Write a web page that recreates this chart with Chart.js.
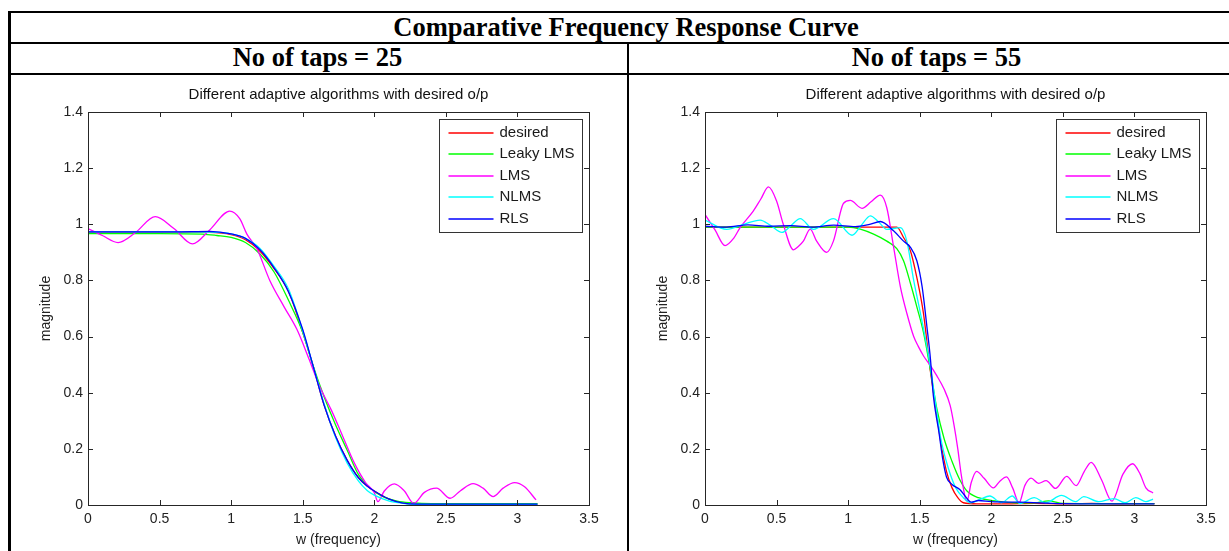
<!DOCTYPE html>
<html>
<head>
<meta charset="utf-8">
<title>Comparative Frequency Response Curve</title>
<script src="https://cdn.jsdelivr.net/npm/chart.js@4.4.0/dist/chart.umd.min.js"></script>
<style>
  html, body { margin: 0; padding: 0; background: #fff; }
  body { width: 1229px; height: 551px; position: relative; overflow: hidden; }
  .rule { position: absolute; background: #000; }
  .head {
    position: absolute; text-align: center; white-space: nowrap; color: #000;
    font-family: "Liberation Serif", "Times New Roman", serif; font-weight: bold; font-size: 26.5px;
    height: 29px; line-height: 29px;
  }
  canvas { position: absolute; }
</style>
</head>
<body>
  <!-- table rules -->
  <div class="rule" style="left:8px;top:11px;width:1236px;height:2px"></div>
  <div class="rule" style="left:8px;top:42px;width:1236px;height:2px"></div>
  <div class="rule" style="left:8px;top:73px;width:1236px;height:2px"></div>
  <div class="rule" style="left:8px;top:11px;width:3px;height:540px"></div>
  <div class="rule" style="left:627px;top:43px;width:2px;height:508px"></div>

  <div class="head" style="left:8px;top:13px;width:1236px">Comparative Frequency Response Curve</div>
  <div class="head" style="left:8px;top:43px;width:619px">No of taps = 25</div>
  <div class="head" style="left:629px;top:43px;width:615px">No of taps = 55</div>

  <canvas id="chart25" width="614" height="475" style="left:12px;top:76px"></canvas>
  <canvas id="chart55" width="599" height="475" style="left:630px;top:76px"></canvas>

<script>
  'use strict';

  const SUBTITLE = 'Different adaptive algorithms with desired o/p';
  const X_TITLE = 'w (frequency)';
  const Y_TITLE = 'magnitude';
  const SERIES_NAMES = ['desired', 'Leaky LMS', 'LMS', 'NLMS', 'RLS'];
  const X_TICKS = [0, 0.5, 1, 1.5, 2, 2.5, 3, 3.5];
  const Y_TICKS = [0, 0.2, 0.4, 0.6, 0.8, 1, 1.2, 1.4];

  // ---- No of taps = 25 ----
  const w25Desired = [0, 0.3, 0.6, 0.85, 1.0, 1.1, 1.2, 1.3, 1.4, 1.5, 1.57, 1.65, 1.73, 1.81, 1.89, 1.95, 2.0, 2.1, 2.2, 2.3, 2.6, 3.14];
  const mag25Desired = [0.972, 0.972, 0.972, 0.971, 0.963, 0.945, 0.905, 0.842, 0.762, 0.615, 0.5, 0.355, 0.245, 0.16, 0.097, 0.068, 0.05, 0.022, 0.007, 0.003, 0.003, 0.003];

  const w25Leaky = [0, 0.5, 0.8, 0.9, 1.0, 1.1, 1.2, 1.3, 1.4, 1.5, 1.57, 1.65, 1.73, 1.81, 1.89, 1.97, 2.05, 2.16, 2.26, 2.4, 3.14];
  const mag25Leaky = [0.967, 0.967, 0.965, 0.96, 0.953, 0.935, 0.895, 0.83, 0.73, 0.615, 0.5, 0.385, 0.285, 0.196, 0.108, 0.061, 0.032, 0.014, 0.008, 0.005, 0.005];

  const w25Lms = [0, 0.1, 0.21, 0.33, 0.47, 0.6, 0.73, 0.85, 0.99, 1.06, 1.11, 1.18, 1.27, 1.37, 1.46, 1.544, 1.62, 1.7, 1.78, 1.86, 1.94, 2.0, 2.025,
                  2.07, 2.14, 2.21, 2.275, 2.35, 2.435, 2.53, 2.6, 2.69, 2.76, 2.83, 2.9, 2.98, 3.05, 3.13];
  const mag25Lms = [0.985, 0.96, 0.935, 0.97, 1.027, 0.985, 0.93, 0.98, 1.047, 1.02, 0.965, 0.913, 0.8, 0.706, 0.625, 0.52, 0.42, 0.338, 0.244, 0.15, 0.079, 0.044, 0.012,
                    0.05, 0.075, 0.05, 0.006, 0.045, 0.06, 0.024, 0.05, 0.076, 0.06, 0.03, 0.06, 0.08, 0.065, 0.018];

  const w25Nlms = [0, 0.3, 0.6, 0.85, 1.0, 1.1, 1.2, 1.3, 1.4, 1.5, 1.57, 1.65, 1.73, 1.81, 1.89, 1.95, 2.0, 2.1, 2.2, 2.3, 2.6, 3.14];
  const mag25Nlms = [0.973, 0.973, 0.973, 0.972, 0.966, 0.95, 0.915, 0.85, 0.77, 0.62, 0.5, 0.36, 0.24, 0.15, 0.085, 0.052, 0.035, 0.015, 0.006, 0.002, 0.002, 0.002];

  const w25Rls = [0, 0.3, 0.6, 0.85, 1.0, 1.1, 1.2, 1.3, 1.4, 1.5, 1.57, 1.65, 1.73, 1.81, 1.89, 1.95, 2.0, 2.1, 2.2, 2.3, 2.6, 3.14];
  const mag25Rls = [0.973, 0.973, 0.973, 0.975, 0.966, 0.95, 0.91, 0.845, 0.76, 0.625, 0.5, 0.355, 0.245, 0.16, 0.097, 0.068, 0.05, 0.022, 0.007, 0.003, 0.003, 0.003];

  // ---- No of taps = 55 ----
  const w55Desired = [0, 0.3, 0.6, 0.9, 1.2, 1.34, 1.387, 1.435, 1.48, 1.527, 1.57, 1.61, 1.647, 1.687, 1.726, 1.766, 1.805, 1.9, 2.1, 2.3, 2.5, 2.7, 2.9, 3.14];
  const mag55Desired = [0.99, 0.99, 0.99, 0.99, 0.99, 0.99, 0.953, 0.906, 0.81, 0.68, 0.495, 0.354, 0.225, 0.12, 0.061, 0.026, 0.008, 0.004, 0.004, 0.006, 0.004, 0.006, 0.004, 0.005];

  const w55Leaky = [0, 0.5, 0.9, 1.0, 1.085, 1.178, 1.27, 1.34, 1.387, 1.435, 1.48, 1.527, 1.57, 1.62, 1.67, 1.726, 1.78, 1.83, 1.91, 2.04, 2.17, 2.3, 2.4, 2.5, 2.8, 3.14];
  const mag55Leaky = [0.99, 0.99, 0.99, 0.99, 0.983, 0.965, 0.94, 0.913, 0.87, 0.79, 0.706, 0.613, 0.495, 0.342, 0.237, 0.155, 0.09, 0.05, 0.026, 0.014, 0.008, 0.008, 0.015, 0.006, 0.005, 0.005];

  const w55Lms = [0, 0.07, 0.14, 0.2, 0.245, 0.337, 0.39, 0.443, 0.5, 0.547, 0.618, 0.65, 0.687, 0.735, 0.78, 0.85, 0.897, 0.968, 1.015, 1.097, 1.16,
                  1.225, 1.27, 1.318, 1.365, 1.41, 1.458, 1.49, 1.528, 1.57, 1.62, 1.67, 1.713, 1.74, 1.766, 1.79, 1.818, 1.83, 1.86, 1.897, 1.95,
                  2.015, 2.06, 2.107, 2.15, 2.194, 2.235, 2.278, 2.33, 2.383, 2.449, 2.527, 2.593, 2.65, 2.698, 2.77, 2.843, 2.92, 2.987, 3.04, 3.08, 3.13];
  const mag55Lms = [1.035, 0.98, 0.924, 0.95, 0.988, 1.047, 1.09, 1.133, 1.083, 1.0, 0.909, 0.92, 0.94, 0.983, 0.94, 0.9, 0.94, 1.075, 1.085, 1.057, 1.08,
                    1.104, 1.059, 0.918, 0.777, 0.683, 0.6, 0.565, 0.53, 0.5, 0.46, 0.413, 0.354, 0.284, 0.2, 0.108, 0.026, 0.014, 0.08, 0.12, 0.095,
                    0.061, 0.085, 0.1, 0.06, 0.008, 0.07, 0.096, 0.077, 0.087, 0.059, 0.102, 0.069, 0.12, 0.152, 0.09, 0.014, 0.11, 0.147, 0.11, 0.061, 0.043];

  const w55Nlms = [0, 0.152, 0.27, 0.385, 0.46, 0.537, 0.6, 0.665, 0.758, 0.898, 1.027, 1.09, 1.155, 1.21, 1.27, 1.365, 1.41, 1.458, 1.505, 1.55,
                   1.57, 1.61, 1.647, 1.7, 1.752, 1.805, 1.858, 1.92, 1.99, 2.07, 2.147, 2.2, 2.3, 2.38, 2.49, 2.59, 2.646, 2.75, 2.856, 2.935, 3.01, 3.08, 3.13];
  const mag55Nlms = [1.015, 0.982, 1.0, 1.015, 0.995, 0.971, 0.995, 1.02, 0.982, 1.02, 0.961, 0.995, 1.03, 1.01, 0.982, 0.988, 0.94, 0.8, 0.683, 0.565,
                     0.506, 0.366, 0.237, 0.131, 0.061, 0.026, 0.008, 0.02, 0.032, 0.008, 0.032, 0.005, 0.026, 0.008, 0.034, 0.012, 0.03, 0.012, 0.023, 0.008, 0.026, 0.012, 0.021];

  const w55Rls = [0, 0.15, 0.3, 0.45, 0.6, 0.75, 0.9, 1.05, 1.15, 1.225, 1.317, 1.387, 1.435, 1.48, 1.517, 1.55, 1.575, 1.595, 1.634, 1.66, 1.687,
                  1.726, 1.78, 1.82, 1.86, 1.91, 2.0, 2.2, 2.5, 2.8, 3.14];
  const mag55Rls = [0.993, 0.99, 0.998, 0.993, 0.995, 0.99, 0.997, 0.992, 1.0, 1.01, 0.977, 0.94, 0.918, 0.87, 0.777, 0.636, 0.52, 0.39, 0.26, 0.166, 0.1,
                    0.073, 0.055, 0.03, 0.01, 0.016, 0.012, 0.01, 0.005, 0.004, 0.004];

  const LINE_COLORS = ['#ff0000', '#00ff00', '#ff00ff', '#00ffff', '#0000ff'];
  const AXIS_COLOR = '#262626';
  const SANS = '"Liberation Sans", Arial, sans-serif';

  function toPoints(ws, mags) {
    return ws.map(function (w, i) { return { x: w, y: mags[i] }; });
  }

  function tickText(v) {
    return String(Math.round(v * 100) / 100);
  }

  // MATLAB look: boxed axes, inward ticks on all sides, legend box in the NE corner
  const matlabAxes = {
    id: 'matlabAxes',
    afterDatasetsDraw: function (chart) {
      const ctx = chart.ctx;
      const a = chart.chartArea;
      const xs = chart.scales.x;
      const ys = chart.scales.y;
      ctx.save();
      ctx.strokeStyle = AXIS_COLOR;
      ctx.lineWidth = 1;
      ctx.strokeRect(a.left + 0.5, a.top + 0.5, a.right - a.left, a.bottom - a.top);

      ctx.beginPath();
      X_TICKS.forEach(function (v) {
        const px = Math.round(xs.getPixelForValue(v)) + 0.5;
        ctx.moveTo(px, a.bottom); ctx.lineTo(px, a.bottom - 5);
        ctx.moveTo(px, a.top); ctx.lineTo(px, a.top + 5);
      });
      Y_TICKS.forEach(function (v) {
        const py = Math.round(ys.getPixelForValue(v)) + 0.5;
        ctx.moveTo(a.left, py); ctx.lineTo(a.left + 5, py);
        ctx.moveTo(a.right, py); ctx.lineTo(a.right - 5, py);
      });
      ctx.stroke();

      // legend
      const bw = 143, bh = 113;
      const bx = Math.round(a.right - 7 - bw) + 0.5;
      const by = Math.round(a.top + 7) + 0.5;
      ctx.fillStyle = '#fff';
      ctx.fillRect(bx, by, bw, bh);
      ctx.strokeStyle = '#333';
      ctx.lineWidth = 1;
      ctx.strokeRect(bx, by, bw, bh);
      ctx.font = '15px ' + SANS;
      ctx.textBaseline = 'middle';
      ctx.textAlign = 'left';
      chart.data.datasets.forEach(function (ds, i) {
        const cy = Math.round(by + 13 + i * 21.5);
        ctx.strokeStyle = LINE_COLORS[i];
        ctx.lineWidth = 1.6;
        ctx.beginPath();
        ctx.moveTo(bx + 9, cy); ctx.lineTo(bx + 54, cy);
        ctx.stroke();
        ctx.fillStyle = '#1a1a1a';
        ctx.fillText(ds.label, bx + 60, cy);
      });
      ctx.restore();
    }
  };

  function makeChart(id, series, padLeft, padRight) {
    const datasets = series.map(function (s, i) {
      return {
        label: SERIES_NAMES[i],
        data: toPoints(s[0], s[1]),
        borderColor: LINE_COLORS[i],
        borderWidth: 1.3,
        pointRadius: 0,
        cubicInterpolationMode: 'monotone',
        fill: false,
        order: series.length - 1 - i
      };
    });

    return new Chart(document.getElementById(id), {
      type: 'line',
      data: { datasets: datasets },
      options: {
        responsive: false,
        animation: false,
        events: [],
        layout: { padding: { left: padLeft, right: padRight, top: 0, bottom: 0 } },
        plugins: {
          legend: { display: false },
          tooltip: { enabled: false },
          title: {
            display: true,
            fullSize: false,
            text: SUBTITLE,
            color: '#111',
            font: { family: SANS, size: 15, weight: 'normal' },
            padding: { top: 10, bottom: 8 }
          }
        },
        scales: {
          x: {
            type: 'linear',
            min: 0, max: 3.5,
            afterBuildTicks: function (s) { s.ticks = X_TICKS.map(function (v) { return { value: v }; }); },
            ticks: { color: '#222', padding: 6, font: { family: SANS, size: 14 }, maxRotation: 0, callback: tickText },
            grid: { display: false, drawTicks: false },
            border: { display: false },
            title: { display: true, text: X_TITLE, color: '#222', font: { family: SANS, size: 14 }, padding: { top: 0, bottom: 2 } },
            afterFit: function (s) { s.height = 46; }
          },
          y: {
            type: 'linear',
            min: 0, max: 1.4,
            afterBuildTicks: function (s) { s.ticks = Y_TICKS.map(function (v) { return { value: v }; }); },
            ticks: { color: '#222', padding: 5, font: { family: SANS, size: 14 }, callback: tickText },
            grid: { display: false, drawTicks: false },
            border: { display: false },
            title: { display: true, text: Y_TITLE, color: '#222', font: { family: SANS, size: 14 }, padding: { top: 6, bottom: 0 } },
            afterFit: function (s) { s.width = 56; }
          }
        }
      },
      plugins: [matlabAxes]
    });
  }

  makeChart('chart25', [
    [w25Desired, mag25Desired],
    [w25Leaky, mag25Leaky],
    [w25Lms, mag25Lms],
    [w25Nlms, mag25Nlms],
    [w25Rls, mag25Rls]
  ], 20, 37);

  makeChart('chart55', [
    [w55Desired, mag55Desired],
    [w55Leaky, mag55Leaky],
    [w55Lms, mag55Lms],
    [w55Nlms, mag55Nlms],
    [w55Rls, mag55Rls]
  ], 19, 23);
</script>
</body>
</html>
